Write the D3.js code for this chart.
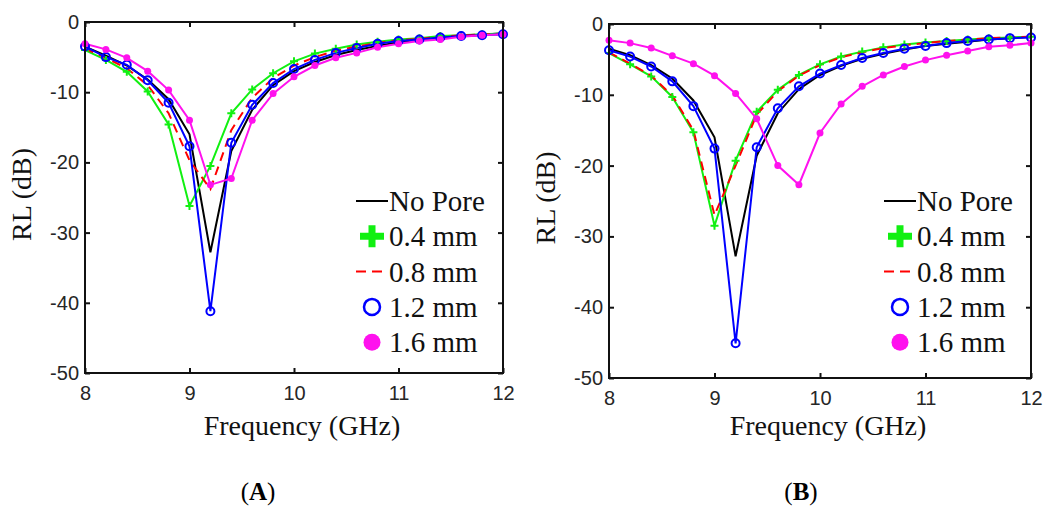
<!DOCTYPE html>
<html>
<head>
<meta charset="utf-8">
<script src="https://cdn.jsdelivr.net/npm/d3@7"></script>
<style>
  body { margin: 0; background: #fff; }
  svg { display: block; }
</style>
</head>
<body>
<div class="canva"></div>
<script>
// frequency points (GHz)
const freq = [8, 8.2, 8.4, 8.6, 8.8, 9, 9.2, 9.4, 9.6, 9.8, 10, 10.2, 10.4, 10.6, 10.8, 11, 11.2, 11.4, 11.6, 11.8, 12];

// panel A: RL (dB)
const noPoreA = [-3.5, -4.8, -6.2, -8.2, -11.0, -16.0, -32.8, -18.4, -12.5, -9.0, -7.0, -5.7, -4.7, -4.0, -3.4, -2.9, -2.5, -2.2, -2.0, -1.8, -1.6];
const p04A = [-4.0, -5.4, -7.1, -9.9, -14.6, -26.2, -20.5, -13.0, -9.6, -7.3, -5.6, -4.5, -3.8, -3.2, -2.8, -2.5, -2.3, -2.0, -1.9, -1.75, -1.65];
const p08A = [-3.8, -5.1, -6.6, -9.0, -13.0, -19.7, -23.8, -15.4, -10.8, -8.0, -6.2, -5.0, -4.1, -3.5, -3.0, -2.6, -2.4, -2.1, -1.9, -1.8, -1.7];
const p12A = [-3.5, -5.0, -6.1, -8.3, -11.5, -17.7, -41.2, -17.2, -11.8, -8.7, -6.7, -5.4, -4.4, -3.7, -3.1, -2.7, -2.5, -2.2, -2.0, -1.9, -1.75];
const p16A = [-3.1, -3.9, -5.1, -7.0, -9.7, -14.0, -23.2, -22.3, -14.0, -10.2, -7.8, -6.2, -5.1, -4.4, -3.6, -3.1, -2.7, -2.5, -2.1, -1.9, -1.75];

// panel B: RL (dB)
const noPoreB = [-3.5, -4.4, -5.8, -7.7, -10.8, -16.0, -32.8, -18.6, -12.6, -9.2, -7.2, -5.9, -4.9, -4.2, -3.6, -3.1, -2.8, -2.5, -2.2, -2.0, -1.8];
const p04B = [-4.1, -5.7, -7.4, -10.3, -15.3, -28.5, -19.3, -12.4, -9.3, -7.2, -5.7, -4.6, -3.9, -3.3, -2.9, -2.6, -2.4, -2.2, -2.0, -1.9, -1.8];
const p08B = [-4.0, -5.6, -7.3, -10.1, -15.0, -27.0, -20.0, -12.8, -9.5, -7.3, -5.8, -4.7, -4.0, -3.4, -3.0, -2.7, -2.4, -2.2, -2.0, -1.9, -1.8];
const p12B = [-3.7, -4.6, -6.0, -8.1, -11.6, -17.6, -45.1, -17.4, -11.9, -8.8, -7.0, -5.8, -4.8, -4.1, -3.5, -3.1, -2.7, -2.4, -2.2, -2.0, -1.9];
const p16B = [-2.3, -2.7, -3.4, -4.5, -5.6, -7.3, -9.8, -13.4, -20.0, -22.7, -15.4, -11.3, -8.8, -7.2, -6.0, -5.1, -4.4, -3.8, -3.2, -3.0, -2.7];

const seriesNames = ["No Pore", "0.4 mm", "0.8 mm", "1.2 mm", "1.6 mm"];
const xTicks = [8, 9, 10, 11, 12];
const yTicks = [0, -10, -20, -30, -40, -50];

const colors = ["#000000", "#11f011", "#ff0000", "#0000ff", "#ff11ee"];

const svg = d3.select(".canva").append("svg")
    .attr("width", 1043)
    .attr("height", 506);

svg.append("rect").attr("width", 1043).attr("height", 506).attr("fill", "#fff");

const serif = "'Liberation Serif', 'Times New Roman', serif";
const sans = "'Liberation Sans', Arial, sans-serif";

function drawPanel(p) {
  const x = d3.scaleLinear().domain([8, 12]).range([p.left, p.right]);
  const y = d3.scaleLinear().domain([-50, 0]).range([p.bottom, p.top]);
  const g = svg.append("g");

  const line = d3.line().x((d, i) => x(freq[i])).y(d => y(d));

  // curves
  p.data.forEach((vals, k) => {
    g.append("path")
      .attr("d", line(vals))
      .attr("fill", "none")
      .attr("stroke", colors[k])
      .attr("stroke-width", 2)
      .attr("stroke-dasharray", k == 2 ? "9,6" : null);
  });

  // markers
  g.selectAll(".plus").data(p.data[1]).join("path")
    .attr("d", (d, i) => `M${x(freq[i]) - 4},${y(d)}h8M${x(freq[i])},${y(d) - 4}v8`)
    .attr("stroke", colors[1]).attr("stroke-width", 2);

  g.selectAll(".ring").data(p.data[3]).join("circle")
    .attr("cx", (d, i) => x(freq[i])).attr("cy", d => y(d)).attr("r", 4)
    .attr("fill", "none").attr("stroke", colors[3]).attr("stroke-width", 2);

  g.selectAll(".dot").data(p.data[4]).join("circle")
    .attr("cx", (d, i) => x(freq[i])).attr("cy", d => y(d)).attr("r", 3.5)
    .attr("fill", colors[4]);

  // axes, ticks inward on all four sides
  const ax = g.append("g");
  ax.append("g").attr("transform", `translate(0,${p.bottom})`)
    .call(d3.axisBottom(x).tickValues(xTicks).tickSize(-5).tickPadding(13).tickFormat(d3.format("d")));
  ax.append("g").attr("transform", `translate(${p.left},0)`)
    .call(d3.axisLeft(y).tickValues(yTicks).tickSize(-5).tickPadding(6).tickFormat(d => d == 0 ? "0" : "-" + Math.abs(d)));
  ax.append("g").attr("transform", `translate(0,${p.top})`)
    .call(d3.axisTop(x).tickValues(xTicks).tickSize(-5).tickFormat(""));
  ax.append("g").attr("transform", `translate(${p.right},0)`)
    .call(d3.axisRight(y).tickValues(yTicks).tickSize(-5).tickFormat(""));
  ax.selectAll("g").attr("font-family", sans).attr("font-size", 20);
  ax.selectAll(".domain").remove();
  ax.selectAll("line").attr("stroke", "#111").attr("stroke-width", 2);
  ax.selectAll("text").attr("fill", "#262626");

  g.append("rect")
    .attr("x", p.left).attr("y", p.top)
    .attr("width", p.right - p.left).attr("height", p.bottom - p.top)
    .attr("fill", "none").attr("stroke", "#111").attr("stroke-width", 2);

  // axis titles
  g.append("text")
    .text("Frequency (GHz)")
    .attr("x", (p.left + p.right) / 2 + 8).attr("y", 435)
    .attr("text-anchor", "middle")
    .attr("font-family", serif).attr("font-size", 28).attr("fill", "#111");

  g.append("text")
    .text("RL (dB)")
    .attr("transform", `translate(${p.left - 54},${(p.top + p.bottom) / 2 - 3}) rotate(-90)`)
    .attr("text-anchor", "middle")
    .attr("font-family", serif).attr("font-size", 28).attr("fill", "#111");

  // panel label
  const lab = g.append("text")
    .attr("x", p.labelX).attr("y", 500)
    .attr("text-anchor", "middle")
    .attr("font-family", serif).attr("font-size", 25).attr("fill", "#000");
  lab.append("tspan").text("(");
  lab.append("tspan").text(p.label).attr("font-weight", "bold");
  lab.append("tspan").text(")");

  // legend
  const lx = p.right - 131, tx = p.right - 114;
  seriesNames.forEach((name, k) => {
    const ly = 201 + k * 35.3;
    if (k == 0) {
      g.append("line").attr("x1", lx - 16).attr("x2", lx + 16).attr("y1", ly).attr("y2", ly)
        .attr("stroke", colors[0]).attr("stroke-width", 2);
    } else if (k == 1) {
      g.append("path").attr("d", `M${lx - 12},${ly}h24M${lx},${ly - 11}v22`)
        .attr("stroke", colors[1]).attr("stroke-width", 7);
    } else if (k == 2) {
      g.append("line").attr("x1", lx - 16).attr("x2", lx + 16).attr("y1", ly).attr("y2", ly)
        .attr("stroke", colors[2]).attr("stroke-width", 2).attr("stroke-dasharray", "10,6");
    } else if (k == 3) {
      g.append("circle").attr("cx", lx).attr("cy", ly).attr("r", 8)
        .attr("fill", "none").attr("stroke", colors[3]).attr("stroke-width", 2.5);
    } else {
      g.append("circle").attr("cx", lx).attr("cy", ly).attr("r", 8.5).attr("fill", colors[4]);
    }
    g.append("text").text(name)
      .attr("x", tx).attr("y", ly + 10)
      .attr("font-family", serif).attr("font-size", 29).attr("fill", "#111");
  });
}

drawPanel({ left: 85, right: 503, top: 22, bottom: 373, labelX: 258, label: "A",
            data: [noPoreA, p04A, p08A, p12A, p16A] });
drawPanel({ left: 609, right: 1031, top: 24, bottom: 378, labelX: 801, label: "B",
            data: [noPoreB, p04B, p08B, p12B, p16B] });
</script>
</body>
</html>
